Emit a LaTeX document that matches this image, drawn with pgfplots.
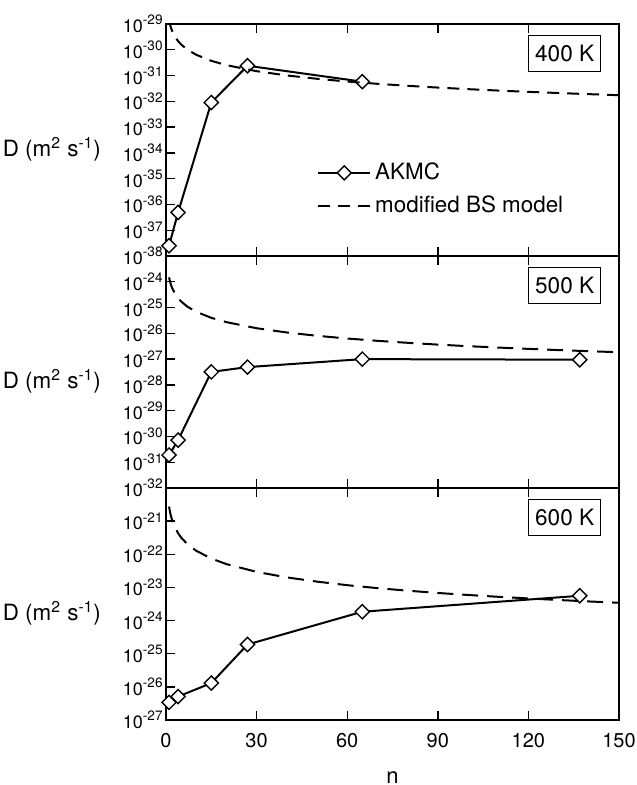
\documentclass[border=0pt]{standalone}
\usepackage{fontspec}
\setmainfont{TeX Gyre Heros}
\usepackage{pgfplots}
\usepackage{pgfplotstable}
\pgfplotsset{compat=1.18}
\usepgfplotslibrary{groupplots}

% modified BS model
\pgfplotstableread{
n D
1 1.38e-29
1.5 8.04e-30
2 5.48e-30
3 3.19e-30
4 2.17e-30
5 1.61e-30
7 1.03e-30
10 6.41e-31
15 3.73e-31
20 2.54e-31
30 1.48e-31
40 1.01e-31
50 7.50e-32
60 5.87e-32
70 4.79e-32
80 4.00e-32
90 3.42e-32
100 2.97e-32
110 2.62e-32
120 2.33e-32
130 2.10e-32
140 1.90e-32
150 1.73e-32
}\bsfour

\pgfplotstableread{
n D
1 1.48e-24
1.5 8.61e-25
2 5.87e-25
3 3.42e-25
4 2.33e-25
5 1.73e-25
7 1.10e-25
10 6.87e-26
15 4.00e-26
20 2.72e-26
30 1.58e-26
40 1.08e-26
50 8.04e-27
60 6.30e-27
70 5.13e-27
80 4.29e-27
90 3.66e-27
100 3.18e-27
110 2.81e-27
120 2.50e-27
130 2.24e-27
140 2.03e-27
150 1.85e-27
}\bsfive

\pgfplotstableread{
n D
1 2.75e-21
1.5 1.60e-21
2 1.09e-21
3 6.37e-22
4 4.34e-22
5 3.22e-22
7 2.06e-22
10 1.28e-22
15 7.45e-23
20 5.07e-23
30 2.95e-23
40 2.01e-23
50 1.50e-23
60 1.17e-23
70 9.55e-24
80 7.98e-24
90 6.82e-24
100 5.93e-24
110 5.22e-24
120 4.66e-24
130 4.18e-24
140 3.78e-24
150 3.45e-24
}\bssix

\newcommand{\hidetick}{0}
\newcommand{\expsup}[1]{\raisebox{0.42em}{\fontsize{6.8}{7}\selectfont #1}}
\pgfplotsset{
  akmc/.style={black, line width=1pt, mark=square*, mark size=2.5pt,
    mark options={fill=white, draw=black, line width=0.7pt, solid, rotate=45}},
  bs/.style={black, line width=1pt, dash pattern=on 8pt off 4.5pt, no marks},
}
\tikzset{
  tlabel/.style={draw=black, line width=0.5pt, fill=white, inner xsep=3.4pt, inner ysep=4.6pt,
    font=\fontsize{11.3}{12}\selectfont},
}

\begin{document}
\begin{tikzpicture}
\begin{groupplot}[
  group style={group size=1 by 3, vertical sep=0pt, xticklabels at=edge bottom, group name=gp},
  width=226.5pt, height=116pt, scale only axis,
  xmin=0, xmax=150, xtick={0,30,60,90,120,150},
  ymode=log, log basis y=10,
  tick align=inside, ytick pos=left,
  major tick length=4.5pt, minor tick length=2.5pt,
  every tick/.style={black, line width=0.7pt},
  axis line style={line width=1pt},
  clip mode=individual,
  /pgf/number format/assume math mode=true,
  xticklabel style={font=\fontsize{10}{11}\selectfont, yshift=-3pt},
  yticklabel style={font=\fontsize{9}{10}\selectfont, inner sep=1.5pt},
  yticklabel={\pgfmathtruncatemacro\ex{round(\tick)}\ifnum\ex=\hidetick\relax\else 10\expsup{\ex}\fi},
  ylabel={D (m\textsuperscript{2} s\textsuperscript{-1})},
  every axis y label/.style={at={(rel axis cs:0,0.46)}, anchor=east, xshift=-29pt, rotate=0,
    font=\fontsize{11.2}{12}\selectfont},
  xlabel style={font=\fontsize{11}{12}\selectfont, yshift=-5pt},
]
\nextgroupplot[ymin=1e-38, ymax=1e-29, ytickten={-38,...,-29},
  legend style={at={(rel axis cs:0.333,0.42)}, anchor=north west, draw=none, fill=none,
    font=\fontsize{11.2}{12}\selectfont, row sep=2.5pt, inner sep=0pt},
  legend cell align=left,
  legend image code/.code={\draw[#1] (0pt,0pt) -- (26pt,0pt); \draw[#1, only marks] plot coordinates {(13pt,0pt)};},
]
\coordinate (tl) at (rel axis cs:0,1);
\addplot[akmc] coordinates {(1,2.5e-38) (4,4.9e-37) (15,9e-33) (27,2.4e-31) (65,5.8e-32)};
\addlegendentry{AKMC}
\addplot[bs, dash pattern=on 6pt off 4pt] table[x=n, y=D] {\bsfour};
\addlegendentry{modified BS model}
\node[tlabel] at (rel axis cs:0.88,0.873) {400 K};

\nextgroupplot[ymin=1e-32, ymax=1e-23, ytickten={-32,...,-23},
  execute at begin axis={\renewcommand{\hidetick}{-23}}]
\addplot[akmc] coordinates {(1,1.9e-31) (4,7.2e-31) (15,3.2e-28) (27,4.9e-28) (65,1.0e-27) (137,9.5e-28)};
\addplot[bs] table[x=n, y=D] {\bsfive};
\node[tlabel] at (rel axis cs:0.88,0.873) {500 K};

\nextgroupplot[ymin=1e-27, ymax=1e-20, ytickten={-27,...,-20},
  execute at begin axis={\renewcommand{\hidetick}{-20}}, xlabel={n}]
\addplot[akmc] coordinates {(1,3.4e-27) (4,5.1e-27) (15,1.3e-26) (27,1.9e-25) (65,1.85e-24) (137,5.6e-24)};
\addplot[bs] table[x=n, y=D] {\bssix};
\node[tlabel] at (rel axis cs:0.88,0.873) {600 K};
\end{groupplot}
\pgfresetboundingbox
\path ([shift={(-83pt,12pt)}]tl) rectangle ([shift={(235pt,-380.5pt)}]tl);
\end{tikzpicture}
\end{document}
